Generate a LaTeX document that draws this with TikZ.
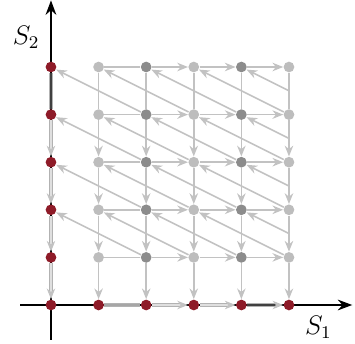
\documentclass[tikz,border=0pt]{standalone}
\usepackage{amsmath}
\usetikzlibrary{arrows.meta}
\definecolor{dotred}{HTML}{8E1B28}
\definecolor{lightdot}{HTML}{BDBDBD}
\definecolor{darkdot}{HTML}{8C8C8C}
\definecolor{arrowgray}{HTML}{C2C2C2}

\begin{document}
\begin{tikzpicture}[x=0.75cm,y=0.75cm,
    dot/.style={circle,inner sep=0pt,minimum size=4.8pt},
    plain/.style={arrowgray,line width=0.7pt},
    flow/.style={plain,-{Stealth[length=4.8pt,width=3.8pt]}},
    axisline/.style={draw=gray!60,double=gray!25,double distance=0.7pt,line width=0.45pt},
    axisflow/.style={axisline,-{Stealth[length=4.8pt,width=3.8pt,color=arrowgray]}}]
  \useasboundingbox (-1.071,-0.819) rectangle (6.387,6.408);
  % axes
  \draw[-{Stealth[length=6.5pt,width=4.8pt]},line width=0.9pt] (-0.65,0) -- (6.33,0);
  \draw[-{Stealth[length=6.5pt,width=4.8pt]},line width=0.9pt] (0,-0.73) -- (0,6.4);
  \node[font=\large] (s1) at (5.62,-0.47) {$S_1$};
  \node[font=\large] (s2) at (-0.52,5.62) {$S_2$};
  % points
  \foreach \i in {0,...,5} \node[dot,fill=dotred] (p-\i-0) at (\i,0) {};
  \foreach \j in {1,...,5} \node[dot,fill=dotred] (p-0-\j) at (0,\j) {};
  \foreach \i/\c in {1/lightdot,2/darkdot,3/lightdot,4/darkdot,5/lightdot}
    \foreach \j in {1,...,5} \node[dot,fill=\c] (p-\i-\j) at (\i,\j) {};
  % grid segments without heads
  \foreach \j in {1,...,5} \draw[plain] (p-1-\j) -- (p-2-\j);
  \foreach \i in {1,...,5} \draw[plain] (p-\i-5) -- (p-\i-4);
  % horizontal and vertical maps
  \foreach \i/\k in {2/3,3/4,4/5} \foreach \j in {1,...,5} \draw[flow] (p-\i-\j) -- (p-\k-\j);
  \foreach \i in {1,...,5} \foreach \j/\k in {4/3,3/2,2/1,1/0} \draw[flow] (p-\i-\j) -- (p-\i-\k);
  % diagonal maps
  \foreach \i/\k in {0/2,1/3,2/4,3/5} \foreach \j/\l in {2/1,3/2,4/3,5/4} \draw[flow] (p-\k-\l) -- (p-\i-\j);
  \foreach \j in {2,...,5} {
    \coordinate (c-\j) at (5,\j-0.5);
    \draw[flow] (c-\j) -- (p-4-\j);
  }
  % maps along the axes
  \draw[axisline,double=black!75] (p-0-5) -- (p-0-4);
  \foreach \j/\k in {4/3,3/2,2/1,1/0} \draw[axisflow] (p-0-\j) -- (p-0-\k);
  \draw[axisline,double=gray!70] (p-1-0) -- (p-2-0);
  \foreach \i/\k in {2/3,3/4} \draw[axisflow] (p-\i-0) -- (p-\k-0);
  \draw[axisflow,double=black!75] (p-4-0) -- (p-5-0);
\end{tikzpicture}
\end{document}
